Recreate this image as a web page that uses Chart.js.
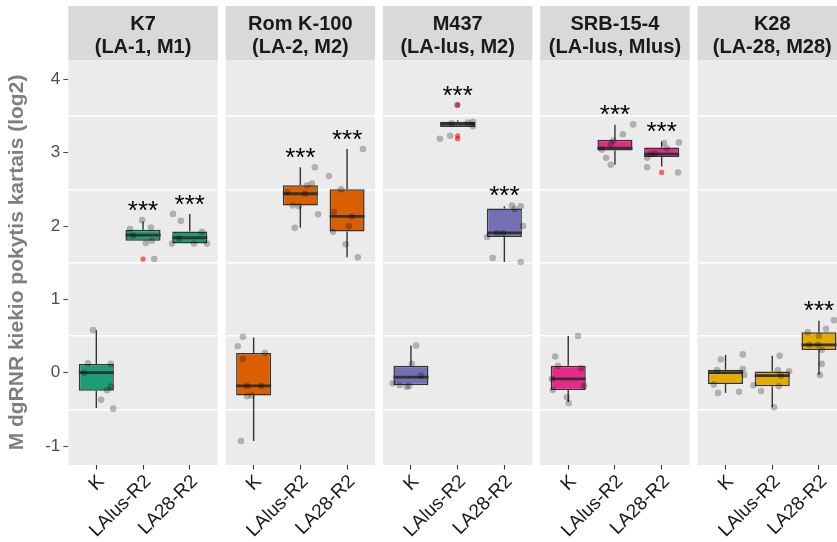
<!DOCTYPE html>
<html>
<head>
<meta charset="utf-8">
<title>M dgRNR kiekio pokytis</title>
<script src="https://cdn.jsdelivr.net/npm/chart.js@4/dist/chart.umd.min.js"></script>
<style>
  html, body { margin: 0; padding: 0; background: #ffffff; overflow: hidden; }
  #wrap { position: relative; width: 837px; height: 542px; overflow: hidden; background: #ffffff; }
  #wrap canvas { position: absolute; top: 0; }
</style>
</head>
<body>
<div id="wrap"></div>
<script>
// ---- data -------------------------------------------------------------
const GROUPS = ['K', 'LAlus-R2', 'LA28-R2'];
const Y_TITLE = 'M dgRNR kiekio pokytis kartais (log2)';

const STRIP_K7   = ['K7', '(LA-1, M1)'];
const STRIP_ROM  = ['Rom K-100', '(LA-2, M2)'];
const STRIP_M437 = ['M437', '(LA-lus, M2)'];
const STRIP_SRB  = ['SRB-15-4', '(LA-lus, Mlus)'];
const STRIP_K28  = ['K28', '(LA-28, M28)'];

// box statistics per group: [lower whisker, Q1, median, Q3, upper whisker]
const K7_BOX = [
  [-0.48, -0.245, 0.00, 0.12, 0.58],
  [1.80, 1.80, 1.875, 1.95, 2.06],
  [1.76, 1.76, 1.84, 1.925, 2.165]
];
const K7_POINTS = [
  [0.58, 0.13, 0.12, 0.00, -0.19, -0.24, -0.37, -0.49],
  [2.08, 1.96, 1.98, 1.87, 1.80, 1.77, 1.55],
  [2.165, 2.07, 1.92, 1.83, 1.76, 1.76, 1.76]
];
const K7_JITTER = [
  [-0.07, -0.18, 0.31, -0.26, 0.31, 0.23, 0.10, 0.36],
  [-0.02, -0.28, 0.17, -0.21, 0.19, 0.06, 0.24],
  [-0.36, -0.19, 0.26, -0.23, -0.38, 0.09, 0.37]
];
const K7_OUTLIERS = [[], [1.55], []];
const K7_SIG = ['', '***', '***'];

const ROM_BOX = [
  [-0.93, -0.31, -0.18, 0.27, 0.48],
  [1.975, 2.28, 2.44, 2.555, 2.80],
  [1.575, 1.925, 2.13, 2.50, 3.05]
];
const ROM_POINTS = [
  [0.49, 0.36, 0.27, 0.19, -0.18, -0.18, -0.32, -0.31, -0.93],
  [2.80, 2.58, 2.555, 2.44, 2.46, 2.28, 2.27, 2.16, 1.975],
  [3.05, 2.68, 2.50, 2.19, 2.13, 2.00, 1.92, 1.75, 1.575]
];
const ROM_JITTER = [
  [-0.23, -0.34, 0.24, -0.23, -0.14, 0.16, -0.14, -0.04, -0.27],
  [0.31, 0.25, 0.14, 0.10, -0.29, -0.16, -0.03, 0.38, -0.12],
  [0.34, -0.39, -0.13, -0.28, 0.10, 0.04, -0.30, -0.03, 0.23]
];
const ROM_OUTLIERS = [[], [], []];
const ROM_SIG = ['', '***', '***'];

const M437_BOX = [
  [-0.17, -0.17, -0.06, 0.095, 0.37],
  [3.35, 3.35, 3.39, 3.42, 3.44],
  [1.51, 1.85, 1.905, 2.24, 2.27]
];
const M437_POINTS = [
  [0.37, 0.12, -0.04, -0.145, -0.17, -0.19, -0.18],
  [3.65, 3.41, 3.42, 3.36, 3.40, 3.23, 3.19],
  [2.28, 2.27, 2.23, 2.00, 1.905, 1.90, 1.85, 1.565, 1.51]
];
const M437_JITTER = [
  [0.11, 0.02, 0.21, -0.39, -0.24, -0.09, -0.04],
  [-0.01, 0.22, 0.33, 0.33, -0.13, -0.16, -0.38],
  [0.16, 0.35, 0.22, 0.40, -0.16, -0.03, -0.37, -0.25, 0.35]
];
const M437_OUTLIERS = [[], [3.65, 3.23, 3.19], []];
const M437_SIG = ['', '***', '***'];

const SRB_BOX = [
  [-0.40, -0.235, -0.085, 0.095, 0.50],
  [2.835, 3.03, 3.06, 3.175, 3.38],
  [2.81, 2.94, 2.98, 3.07, 3.15]
];
const SRB_POINTS = [
  [0.50, 0.22, 0.095, 0.06, -0.085, -0.18, -0.235, -0.335, -0.415],
  [3.385, 3.25, 3.165, 3.12, 3.04, 2.93, 2.835],
  [3.14, 3.13, 3.06, 2.99, 2.98, 2.93, 2.80, 2.73]
];
const SRB_JITTER = [
  [0.21, -0.28, -0.22, 0.27, -0.35, 0.34, -0.33, -0.03, 0.01],
  [0.39, 0.17, -0.04, -0.09, -0.28, -0.19, -0.09],
  [0.37, 0.05, 0.11, -0.14, -0.23, -0.31, -0.31, 0.35]
];
const SRB_OUTLIERS = [[], [], [2.73]];
const SRB_SIG = ['', '***', '***'];

const K28_BOX = [
  [-0.275, -0.155, 0.00, 0.04, 0.24],
  [-0.47, -0.185, -0.04, 0.015, 0.23],
  [-0.03, 0.31, 0.38, 0.55, 0.71]
];
const K28_POINTS = [
  [0.25, 0.18, 0.035, 0.05, -0.03, -0.16, -0.275, -0.26],
  [0.23, 0.035, 0.02, -0.04, -0.17, -0.185, -0.25, -0.47],
  [0.715, 0.60, 0.55, 0.50, 0.38, 0.38, 0.31, 0.12, -0.03]
];
const K28_JITTER = [
  [0.37, -0.10, -0.18, 0.37, 0.40, -0.25, -0.16, 0.29],
  [0.16, 0.12, 0.36, 0.19, -0.40, 0.14, -0.24, 0.04],
  [0.32, 0.15, -0.24, 0.00, -0.21, -0.02, 0.06, 0.06, 0.02]
];
const K28_OUTLIERS = [[], [], []];
const K28_SIG = ['', '', '***'];

// ---- styling ----------------------------------------------------------
const FILLS = ['#1B9E77', '#D95F02', '#7570B3', '#E7298A', '#E6AB02'];
const FONT = '"Liberation Sans", Arial, Helvetica, sans-serif';
const PANEL_BG = '#EBEBEB';
const STRIP_BG = '#D9D9D9';
const LINE_DARK = '#333333';
const Y_MIN = -1.258, Y_MAX = 4.263;
const X_MIN = 0.4, X_MAX = 3.6;
const BOX_WIDTH = 0.75;
const STAR_GAP = 0.22;
const STAR_SIZE = 26;

const PANEL_LEFT = 68.3, PANEL_W = 149.5, PANEL_STEP = 157.3;
const CANVAS_H = 542, X_AXIS_H = 77;

Chart.defaults.font.family = FONT;

const PANELS = [
  { strip: STRIP_K7,   box: K7_BOX,   points: K7_POINTS,   jitter: K7_JITTER,   outliers: K7_OUTLIERS,   sig: K7_SIG },
  { strip: STRIP_ROM,  box: ROM_BOX,  points: ROM_POINTS,  jitter: ROM_JITTER,  outliers: ROM_OUTLIERS,  sig: ROM_SIG },
  { strip: STRIP_M437, box: M437_BOX, points: M437_POINTS, jitter: M437_JITTER, outliers: M437_OUTLIERS, sig: M437_SIG },
  { strip: STRIP_SRB,  box: SRB_BOX,  points: SRB_POINTS,  jitter: SRB_JITTER,  outliers: SRB_OUTLIERS,  sig: SRB_SIG },
  { strip: STRIP_K28,  box: K28_BOX,  points: K28_POINTS,  jitter: K28_JITTER,  outliers: K28_OUTLIERS,  sig: K28_SIG }
];

// strip + panel background, and significance stars above each box
function facetPlugin(panel) {
  return {
    id: 'facet',
    beforeDraw(chart) {
      const { ctx, chartArea: a } = chart;
      const tb = chart.titleBlock;
      ctx.save();
      ctx.fillStyle = STRIP_BG;
      ctx.fillRect(a.left, tb.top, a.right - a.left, a.top - tb.top);
      ctx.fillStyle = PANEL_BG;
      ctx.fillRect(a.left, a.top, a.right - a.left, a.bottom - a.top);
      ctx.restore();
    },
    afterDatasetsDraw(chart) {
      const { ctx } = chart;
      const xs = chart.scales.x, ys = chart.scales.y;
      ctx.save();
      ctx.font = STAR_SIZE + 'px ' + FONT;
      ctx.fillStyle = '#000000';
      ctx.textAlign = 'center';
      ctx.textBaseline = 'alphabetic';
      panel.sig.forEach((label, g) => {
        if (!label) return;
        const top = Math.max(panel.box[g][4], ...panel.points[g], ...panel.outliers[g]);
        const px = xs.getPixelForValue(g + 1);
        const py = ys.getPixelForValue(top + STAR_GAP);
        ctx.fillText(label, px, py + STAR_SIZE * 0.567);
      });
      ctx.restore();
    }
  };
}

function buildDatasets(panel, fill) {
  const boxes = [], whiskers = [], medians = [], jitter = [], outliers = [];
  panel.box.forEach((s, g) => {
    const x = g + 1;
    const [lo, q1, med, q3, hi] = s;
    boxes.push({ x, y: [q1, q3] });
    whiskers.push({ x, y: q3 }, { x, y: hi }, { x, y: null },
                  { x, y: q1 }, { x, y: lo }, { x, y: null });
    medians.push({ x: x - BOX_WIDTH / 2, y: med }, { x: x + BOX_WIDTH / 2, y: med }, { x, y: null });
    panel.points[g].forEach((v, k) => jitter.push({ x: x + panel.jitter[g][k], y: v }));
    panel.outliers[g].forEach(v => outliers.push({ x, y: v }));
  });
  return [
    { type: 'bar', data: boxes, backgroundColor: fill, borderColor: LINE_DARK, borderWidth: 1.5,
      borderSkipped: false, barPercentage: BOX_WIDTH, categoryPercentage: 1, order: 4 },
    { type: 'line', data: whiskers, borderColor: LINE_DARK, borderWidth: 1.4, pointRadius: 0,
      spanGaps: false, fill: false, order: 5 },
    { type: 'line', data: medians, borderColor: LINE_DARK, borderWidth: 2.8, pointRadius: 0,
      spanGaps: false, fill: false, borderCapStyle: 'butt', order: 2 },
    { type: 'scatter', data: outliers, backgroundColor: 'rgba(255,0,0,0.6)', borderWidth: 0,
      pointRadius: 2.6, order: 1 },
    { type: 'scatter', data: jitter, backgroundColor: 'rgba(0,0,0,0.25)', borderWidth: 0,
      pointRadius: 3.3, order: 0 }
  ];
}

const wrap = document.getElementById('wrap');

PANELS.forEach((panel, i) => {
  const areaLeft = PANEL_LEFT + i * PANEL_STEP;
  const areaRight = areaLeft + PANEL_W;
  const canvasLeft = i === 0 ? 0 : Math.floor(areaLeft) - 8;
  const canvasRight = Math.ceil(areaRight) + 8;
  const cw = canvasRight - canvasLeft;

  const cv = document.createElement('canvas');
  cv.width = cw; cv.height = CANVAS_H;
  cv.style.left = canvasLeft + 'px';
  cv.style.width = cw + 'px';
  cv.style.height = CANVAS_H + 'px';
  wrap.appendChild(cv);

  const scales = {
    x: {
      type: 'linear', min: X_MIN, max: X_MAX, offset: false,
      afterFit(a) { a.height = X_AXIS_H; },
      ticks: {
        stepSize: 1, includeBounds: false, autoSkip: false,
        minRotation: 45, maxRotation: 45, padding: 1, labelOffset: 5,
        color: '#1A1A1A', font: { size: 19 },
        callback: (v) => GROUPS[Math.round(v) - 1]
      },
      grid: { offset: false, drawOnChartArea: false, drawTicks: true, tickLength: 4.5,
              tickColor: LINE_DARK, tickWidth: 1.1 },
      border: { display: false }
    },
    y: {
      type: 'linear', position: 'left', min: Y_MIN, max: Y_MAX,
      afterFit(a) { a.width = 0; },
      ticks: { display: false, stepSize: 1, includeBounds: false },
      grid: { offset: true, color: '#FFFFFF', lineWidth: 1.6, drawTicks: false },
      border: { display: false }
    }
  };

  if (i === 0) {
    scales.yt = {
      type: 'linear', position: 'left', min: Y_MIN, max: Y_MAX,
      afterFit(a) { a.width = areaLeft; },
      ticks: { stepSize: 1, includeBounds: false, padding: 3, color: '#4D4D4D', font: { size: 17 } },
      grid: { drawOnChartArea: false, drawTicks: true, tickLength: 5, tickColor: '#4D4D4D', tickWidth: 1.1 },
      border: { display: false },
      title: { display: true, text: Y_TITLE, color: '#7F7F7F',
               font: { size: 21, weight: 'bold' }, padding: { top: 4.4, bottom: 0 } }
    };
  }

  new Chart(cv, {
    type: 'bar',
    data: { datasets: buildDatasets(panel, FILLS[i]) },
    options: {
      responsive: false,
      devicePixelRatio: 1,
      animation: false,
      events: [],
      layout: {
        padding: {
          top: 6, bottom: 0,
          left: i === 0 ? 0 : areaLeft - canvasLeft,
          right: canvasRight - areaRight
        }
      },
      scales,
      plugins: {
        legend: { display: false },
        tooltip: { enabled: false },
        title: {
          display: true, fullSize: false, text: panel.strip, color: '#1A1A1A',
          font: { size: 20, weight: 'bold', lineHeight: 1.165 },
          padding: { top: 6.85, bottom: 0.55 }
        }
      }
    },
    plugins: [facetPlugin(panel)]
  });
});
</script>
</body>
</html>
